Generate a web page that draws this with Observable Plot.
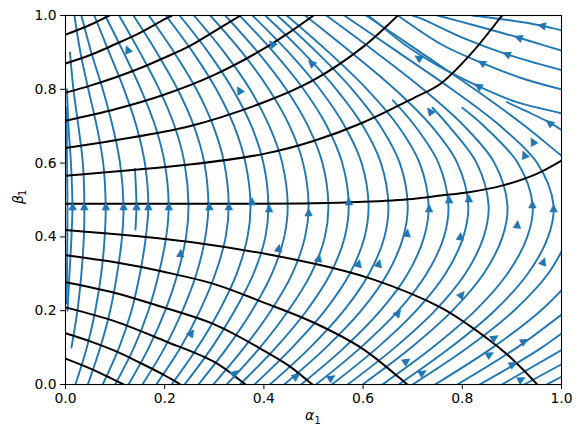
<!DOCTYPE html>
<html><head><meta charset="utf-8">
<script src="https://cdn.jsdelivr.net/npm/d3@7"></script>
<script src="https://cdn.jsdelivr.net/npm/@observablehq/plot@0.6"></script>
<style>body{margin:0;background:#fff}</style>
</head><body><div id="chart"></div>
<script>
const xTicks = [0, 0.2, 0.4, 0.6, 0.8, 1.0];
const yTicks = [0, 0.2, 0.4, 0.6, 0.8, 1.0];
const xLabel = ["α", "1"];
const yLabel = ["β", "1"];

// black level curves, [alpha1, beta1] points
const contours = [
 [[0,0.948],[0.05,0.975],[0.088,1.0],[0.095,1.005]],
 [[0,0.870],[0.05,0.893],[0.1,0.922],[0.15,0.953],[0.2,0.99],[0.215,1.0],[0.225,1.01]],
 [[0,0.791],[0.05,0.81],[0.1,0.832],[0.15,0.857],[0.2,0.886],[0.25,0.917],[0.3,0.957],[0.353,1.0],[0.365,1.01]],
 [[0,0.715],[0.1,0.746],[0.2,0.786],[0.3,0.839],[0.4,0.91],[0.45,0.953],[0.5,1.0],[0.51,1.01]],
 [[0,0.641],[0.1,0.662],[0.25,0.70],[0.4,0.765],[0.5,0.825],[0.6,0.915],[0.67,1.0],[0.678,1.01]],
 [[0,0.566],[0.25,0.596],[0.4,0.625],[0.5,0.66],[0.6,0.71],[0.7,0.775],[0.756,0.815],[0.82,0.9],[0.88,1.0],[0.886,1.01]],
 [[0,0.490],[0.3,0.490],[0.5,0.491],[0.6,0.495],[0.7,0.503],[0.756,0.512],[0.813,0.521],[0.88,0.539],[0.95,0.571],[1.0,0.607]],
 [[0,0.419],[0.252,0.386],[0.5,0.328],[0.62,0.285],[0.756,0.209],[0.847,0.128],[0.9,0.07],[0.951,0.0],[0.957,-0.01]],
 [[0,0.350],[0.1,0.331],[0.2,0.305],[0.3,0.272],[0.4,0.222],[0.5,0.168],[0.6,0.096],[0.689,0.0],[0.698,-0.01]],
 [[0,0.277],[0.1,0.248],[0.2,0.208],[0.3,0.163],[0.4,0.092],[0.45,0.051],[0.498,0.0],[0.508,-0.01]],
 [[0,0.209],[0.1,0.171],[0.2,0.118],[0.3,0.061],[0.363,0.0],[0.373,-0.01]],
 [[0,0.139],[0.05,0.117],[0.1,0.091],[0.15,0.059],[0.2,0.025],[0.232,0.0],[0.242,-0.008]],
 [[0,0.070],[0.05,0.043],[0.09,0.018],[0.117,0.0],[0.127,-0.007]]
];

// blue streamlines, [alpha1, beta1] points (bottom to top)
const streamlines = [
 [[0.002,0.22],[0.003,0.3],[0.004,0.485],[0.003,0.62],[0.002,0.75]],
 [[0.004,0.2],[0.008,0.3],[0.012,0.4],[0.014,0.485],[0.011,0.6],[0.006,0.7],[0.003,0.8]],
 [[0.012,0.1],[0.024,0.2],[0.032,0.3],[0.037,0.4],[0.038,0.485],[0.035,0.6],[0.026,0.7],[0.016,0.8],[0.009,0.9]],
 [[0.02,0.0],[0.043,0.1],[0.06,0.2],[0.072,0.3],[0.079,0.4],[0.081,0.485],[0.076,0.6],[0.063,0.7],[0.046,0.8],[0.03,0.9],[0.018,1.0]],
 [[0.045,0],[0.07,0.1],[0.09,0.2],[0.104,0.3],[0.114,0.4],[0.117,0.485],[0.110,0.6],[0.095,0.7],[0.075,0.8],[0.052,0.9],[0.032,1.0]],
 [[0.141,0.42],[0.143,0.485],[0.14,0.585]],
 [[0.075,0],[0.108,0.1],[0.133,0.2],[0.150,0.3],[0.162,0.4],[0.167,0.485],[0.160,0.6],[0.143,0.7],[0.118,0.8],[0.088,0.9],[0.058,1.0]],
 [[0.10,0],[0.138,0.1],[0.167,0.2],[0.188,0.3],[0.203,0.4],[0.208,0.485],[0.200,0.6],[0.181,0.7],[0.152,0.8],[0.117,0.9],[0.08,1.0]],
 [[0.127,0],[0.168,0.1],[0.201,0.2],[0.226,0.3],[0.243,0.4],[0.248,0.485],[0.240,0.6],[0.220,0.7],[0.189,0.8],[0.150,0.9],[0.108,1.0]],
 [[0.155,0],[0.2,0.1],[0.236,0.2],[0.264,0.3],[0.282,0.4],[0.288,0.485],[0.280,0.6],[0.259,0.7],[0.226,0.8],[0.184,0.9],[0.137,1.0]],
 [[0.183,0],[0.232,0.1],[0.271,0.2],[0.302,0.3],[0.323,0.4],[0.329,0.485],[0.320,0.6],[0.298,0.7],[0.264,0.8],[0.219,0.9],[0.168,1.0]],
 [[0.214,0],[0.266,0.1],[0.310,0.2],[0.345,0.3],[0.367,0.4],[0.373,0.485],[0.363,0.6],[0.340,0.7],[0.304,0.8],[0.257,0.9],[0.202,1.0]],
 [[0.240,0],[0.295,0.1],[0.341,0.2],[0.379,0.3],[0.403,0.4],[0.409,0.485],[0.399,0.6],[0.375,0.7],[0.337,0.8],[0.288,0.9],[0.230,1.0]],
 [[0.268,0],[0.326,0.1],[0.376,0.2],[0.416,0.3],[0.441,0.4],[0.448,0.485],[0.437,0.6],[0.411,0.7],[0.372,0.8],[0.320,0.9],[0.259,1.0]],
 [[0.298,0],[0.360,0.1],[0.414,0.2],[0.457,0.3],[0.483,0.4],[0.490,0.485],[0.479,0.6],[0.452,0.7],[0.410,0.8],[0.356,0.9],[0.292,1.0]],
 [[0.325,0],[0.392,0.1],[0.449,0.2],[0.495,0.3],[0.523,0.4],[0.530,0.485],[0.518,0.6],[0.489,0.7],[0.445,0.8],[0.388,0.9],[0.322,1.0]],
 [[0.352,0],[0.424,0.1],[0.486,0.2],[0.534,0.3],[0.563,0.4],[0.571,0.485],[0.558,0.6],[0.527,0.7],[0.480,0.8],[0.420,0.9],[0.351,1.0]],
 [[0.381,0],[0.457,0.1],[0.523,0.2],[0.573,0.3],[0.603,0.4],[0.611,0.485],[0.597,0.6],[0.563,0.7],[0.513,0.8],[0.450,0.9],[0.377,1.0]],
 [[0.412,0],[0.493,0.1],[0.561,0.2],[0.612,0.3],[0.643,0.4],[0.651,0.485],[0.636,0.6],[0.600,0.7],[0.546,0.8],[0.479,0.9],[0.403,1.0]],
 [[0.441,0],[0.525,0.1],[0.596,0.2],[0.649,0.3],[0.681,0.4],[0.690,0.485],[0.674,0.6],[0.635,0.7],[0.578,0.8],[0.507,0.9],[0.427,1.0]],
 [[0.475,0],[0.562,0.1],[0.635,0.2],[0.690,0.3],[0.723,0.4],[0.732,0.485],[0.714,0.6],[0.671,0.7],[0.608,0.8],[0.531,0.9],[0.446,1.0]],
 [[0.505,0],[0.595,0.1],[0.671,0.2],[0.728,0.3],[0.763,0.4],[0.772,0.485],[0.752,0.6],[0.705,0.7],[0.66,0.77]],
 [[0.537,0],[0.629,0.1],[0.707,0.2],[0.766,0.3],[0.802,0.4],[0.812,0.485],[0.790,0.6],[0.738,0.7],[0.664,0.8],[0.576,0.9],[0.483,1.0]],
 [[0.569,0],[0.664,0.1],[0.745,0.2],[0.806,0.3],[0.843,0.4],[0.853,0.485],[0.829,0.6],[0.773,0.7],[0.74,0.75]],
 [[0.599,0],[0.697,0.1],[0.780,0.2],[0.843,0.3],[0.881,0.4],[0.891,0.485],[0.865,0.6],[0.804,0.7],[0.721,0.8],[0.626,0.9],[0.526,1.0]],
 [[0.639,0],[0.740,0.1],[0.826,0.2],[0.891,0.3],[0.931,0.4],[0.942,0.485],[0.912,0.6],[0.844,0.7],[0.80,0.75]],
 [[0.672,0],[0.776,0.1],[0.865,0.2],[0.932,0.3],[0.973,0.4],[0.984,0.485],[0.951,0.6],[0.877,0.7],[0.779,0.8],[0.671,0.9],[0.562,1.0]],
 [[0.70,0],[0.811,0.1],[0.904,0.2],[0.973,0.3],[1.015,0.4]],
 [[0.745,0],[0.861,0.1],[0.958,0.2],[1.031,0.3]],
 [[0.79,0],[0.91,0.1],[1.01,0.2]],
 [[0.835,0],[0.96,0.1],[1.06,0.2]],
 [[0.88,0],[1.009,0.1]],
 [[0.925,0],[1.0,0.055],[1.02,0.07]],
 [[0.97,0],[1.0,0.021],[1.02,0.035]],
 [[1.02,0.6],[1.0,0.62],[0.927,0.7],[0.825,0.8],[0.716,0.9],[0.606,1.0]],
 [[1.02,0.67],[1.0,0.69],[0.974,0.711],[0.93,0.74],[0.89,0.765]],
 [[1.02,0.728],[1.0,0.735],[0.91,0.765],[0.83,0.81],[0.75,0.865],[0.68,0.925],[0.62,0.99],[0.61,1.0]],
 [[1.02,0.794],[1.0,0.80],[0.92,0.83],[0.837,0.873],[0.76,0.92],[0.67,1.0]],
 [[1.02,0.845],[1.0,0.852],[0.887,0.896],[0.8,0.94],[0.72,0.99],[0.70,1.0]],
 [[1.02,0.898],[1.0,0.905],[0.911,0.941],[0.82,0.975],[0.75,1.0]],
 [[1.02,0.955],[1.0,0.96],[0.958,0.973],[0.88,0.99],[0.82,1.0]]
];

// arrow heads: position and travel direction (degrees, 90 = up)
const arrowX = [0.014,0.038,0.081,0.117,0.143,0.167,0.208,0.29,0.329,0.376,0.41,0.49,0.571,0.733,0.773,0.813,0.941,0.984,
  0.232,0.43,0.689,0.511,0.591,0.632,0.796,0.911,0.964,
  0.255,0.343,0.467,0.538,0.672,0.689,0.722,0.80,0.867,0.927,0.857,0.904,0.921,
  0.124,0.415,0.494,0.349,0.709,0.733,0.958,0.911,0.887,0.837,0.830,0.974,0.924,0.941];
const arrowY = [0.485,0.485,0.485,0.485,0.485,0.485,0.485,0.485,0.485,0.499,0.48,0.47,0.499,0.48,0.503,0.508,0.49,0.48,
  0.358,0.372,0.413,0.345,0.331,0.331,0.404,0.436,0.336,
  0.142,0.033,0.024,0.02,0.196,0.065,0.033,0.246,0.128,0.119,0.083,0.056,0.015,
  0.91,0.926,0.873,0.80,0.887,0.743,0.973,0.941,0.896,0.873,0.81,0.711,0.625,0.661];
const arrowDir = [90,90,90,90,90,90,90,90,90,90,90,90,90,90,90,90,90,90,
  85,80,82,78,75,75,84,85,70,
  55,42,35,33,50,35,32,52,32,30,30,28,27,
  112,130,135,120,148,128,168,160,158,152,148,140,112,118];

const lineRows = (sets) => sets.flatMap((pts, i) => pts.map(([x, y]) => ({x, y, id: i})));
const streamRows = lineRows(streamlines);
const contourRows = lineRows(contours);
const arrows = arrowX.map((x, i) => ({x, y: arrowY[i], dir: arrowDir[i]}));

const blue = "#1f77b4";
const chart = Plot.plot({
  width: 582, height: 438,
  marginLeft: 65, marginRight: 21, marginTop: 15, marginBottom: 54,
  x: {domain: [0, 1]},
  y: {domain: [0, 1]},
  style: {fontFamily: "DejaVu Sans", fontSize: "13.9px", background: "white", color: "black"},
  marks: [
    Plot.line(streamRows, {x: "x", y: "y", z: "id", stroke: blue, strokeWidth: 1.9, curve: "catmull-rom", clip: true}),
    Plot.line(contourRows, {x: "x", y: "y", z: "id", stroke: "black", strokeWidth: 2, curve: "catmull-rom", clip: true}),
    Plot.text(arrows, {x: "x", y: "y", text: () => "▲", rotate: d => 90 - d.dir, fill: blue, fontSize: 11, lineAnchor: "middle", textAnchor: "middle"}),
    Plot.frame({stroke: "black", strokeWidth: 1.1}),
    Plot.axisX({ticks: xTicks, tickSize: 5, tickPadding: 4, tickFormat: d3.format(".1f"), label: null}),
    Plot.axisY({ticks: yTicks, tickSize: 5, tickPadding: 4, tickFormat: d3.format(".1f"), label: null}),
    Plot.text([xLabel[0]], {frameAnchor: "bottom", dx: -4, dy: 35, text: d => d, fontSize: 13.9, fontStyle: "italic"}),
    Plot.text([xLabel[1]], {frameAnchor: "bottom", dx: 4, dy: 39, text: d => d, fontSize: 9.7}),
    Plot.text([yLabel[0]], {frameAnchor: "left", dx: -47, dy: 4, rotate: -90, text: d => d, fontSize: 13.9, fontStyle: "italic"}),
    Plot.text([yLabel[1]], {frameAnchor: "left", dx: -43, dy: -4, rotate: -90, text: d => d, fontSize: 9.7})
  ]
});
document.getElementById("chart").appendChild(chart);
</script>
</body></html>
